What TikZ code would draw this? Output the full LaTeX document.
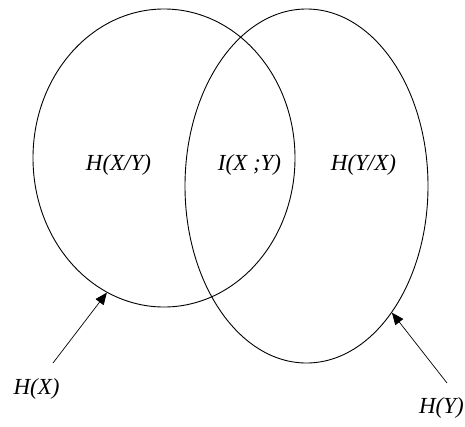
\documentclass[tikz,border=0pt]{standalone}
\usepackage{fontspec}
\setmainfont{Liberation Serif}
\usetikzlibrary{shapes.geometric,arrows.meta}
\begin{document}
\begin{tikzpicture}[x=1pt,y=-1pt,
  setbox/.style={ellipse,draw,line width=0.9pt,inner sep=0pt},
  lbl/.style={font=\fontsize{23}{23}\selectfont\itshape,inner sep=0pt},
  pointer/.style={line width=0.7pt,-{Triangle[length=12pt,width=10pt]}}]
\useasboundingbox (0,0) rectangle (465,426);
\node[setbox,minimum width=262pt,minimum height=298pt] (X) at (164,158) {};
\node[setbox,minimum width=243pt,minimum height=354pt] (Y) at (306.5,186) {};
\node[lbl] (hxy) at (118.5,165) {H(X/Y)};
\node[lbl] (ixy) at (249.5,165) {I(X ;Y)};
\node[lbl] (hyx) at (363.5,165) {H(Y/X)};
\node[lbl] (hx) at (36.5,389) {H(X)};
\node[lbl,anchor=east] (hy) at (464,408) {H(Y)};
\coordinate (sx) at (53,363);
\coordinate (sy) at (447,383);
\draw[pointer] (sx) -- (X.247.9);
\draw[pointer] (sy) -- (Y.304.2);
\end{tikzpicture}
\end{document}
